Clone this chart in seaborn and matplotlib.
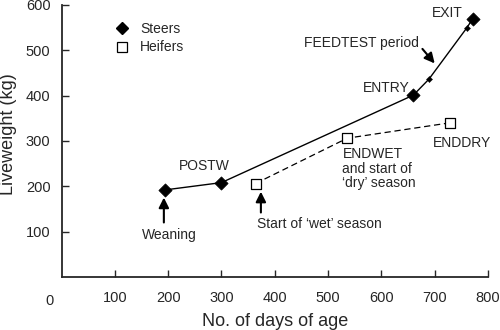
import matplotlib
matplotlib.use("Agg")
import matplotlib.pyplot as plt
import seaborn as sns
from matplotlib.lines import Line2D

# steers: main weigh points plus two intermediate feedtest weighings
steer_days = [195, 300, 660, 689, 760, 771]
steer_wt = [192, 208, 401, 436, 549, 569]
steer_main = [True, True, True, False, False, True]

# heifers
heifer_days = [364, 536, 729]
heifer_wt = [206, 306, 340]

x_ticks = [100, 200, 300, 400, 500, 600, 700, 800]
y_ticks = [100, 200, 300, 400, 500, 600]

sns.set_style("ticks")
plt.rcParams["font.family"] = ["Liberation Sans", "DejaVu Sans"]

fig = plt.figure(figsize=(5, 3.3), dpi=100)
ax = fig.add_axes([0.123, 0.161, 0.853, 0.824])

sns.lineplot(x=steer_days, y=steer_wt, color="black", lw=1, ax=ax, sort=False)
sns.lineplot(x=heifer_days, y=heifer_wt, color="black", lw=0.9, ax=ax,
             sort=False, linestyle=(0, (5, 3)))

big_x = [d for d, m in zip(steer_days, steer_main) if m]
big_y = [w for w, m in zip(steer_wt, steer_main) if m]
small_x = [d for d, m in zip(steer_days, steer_main) if not m]
small_y = [w for w, m in zip(steer_wt, steer_main) if not m]
sns.scatterplot(x=big_x, y=big_y, marker="D", s=45, color="black",
                edgecolor="black", ax=ax, zorder=5)
sns.scatterplot(x=small_x, y=small_y, marker="D", s=10, color="black",
                edgecolor="black", ax=ax, zorder=5)
sns.scatterplot(x=heifer_days, y=heifer_wt, marker="s", s=48, color="white",
                edgecolor="black", linewidth=0.9, ax=ax, zorder=5)

ax.set_xlim(0, 800)
ax.set_ylim(0, 600)
ax.set_xticks(x_ticks)
ax.set_yticks(y_ticks)
ax.tick_params(direction="in", length=5, width=1, labelsize=10.5, pad=8)
ax.tick_params(axis="x", pad=10)
for s in ["left", "bottom"]:
    ax.spines[s].set_linewidth(1.3)
sns.despine(ax=ax)
ax.text(-0.028, -0.09, "0", transform=ax.transAxes, fontsize=10.5,
        ha="center", va="center")

ax.set_xlabel("No. of days of age", fontsize=13, labelpad=6)
ax.set_ylabel("Liveweight (kg)", fontsize=13)
ax.yaxis.set_label_coords(-0.105, 0.525)

handles = [
    Line2D([], [], marker="D", color="black", ls="", markersize=6),
    Line2D([], [], marker="s", markerfacecolor="white", markeredgecolor="black",
           ls="", markersize=7, markeredgewidth=0.9),
]
ax.legend(handles, ["Steers", "Heifers"], loc="upper left",
          bbox_to_anchor=(0.08, 0.985), frameon=False, fontsize=10,
          handletextpad=0.3, labelspacing=0.35)

fs = 10
arrow = dict(arrowstyle="-|>", color="black", lw=1.5, mutation_scale=15,
             shrinkA=0, shrinkB=0)
ax.text(268, 245, "POSTW", fontsize=fs, ha="center", va="center")
ax.text(203, 92, "Weaning", fontsize=fs, ha="center", va="center")
ax.annotate("", xy=(192, 175), xytext=(192, 120), arrowprops=arrow)
ax.text(366, 117, "Start of \u2018wet\u2019 season", fontsize=fs,
        ha="left", va="center")
ax.annotate("", xy=(374, 188), xytext=(374, 142), arrowprops=arrow)
ax.text(527, 286, "ENDWET\nand start of\n\u2018dry\u2019 season", fontsize=fs,
        ha="left", va="top", linespacing=1.05)
ax.text(696, 296, "ENDDRY", fontsize=fs, ha="left", va="center")
ax.text(653, 417, "ENTRY", fontsize=fs, ha="right", va="center")
ax.text(753, 582, "EXIT", fontsize=fs, ha="right", va="center")
ax.text(671, 516, "FEEDTEST period", fontsize=fs, ha="right", va="center")
ax.annotate("", xy=(700, 471), xytext=(677, 503), arrowprops=arrow)

fig.savefig("out.png", dpi=100)
